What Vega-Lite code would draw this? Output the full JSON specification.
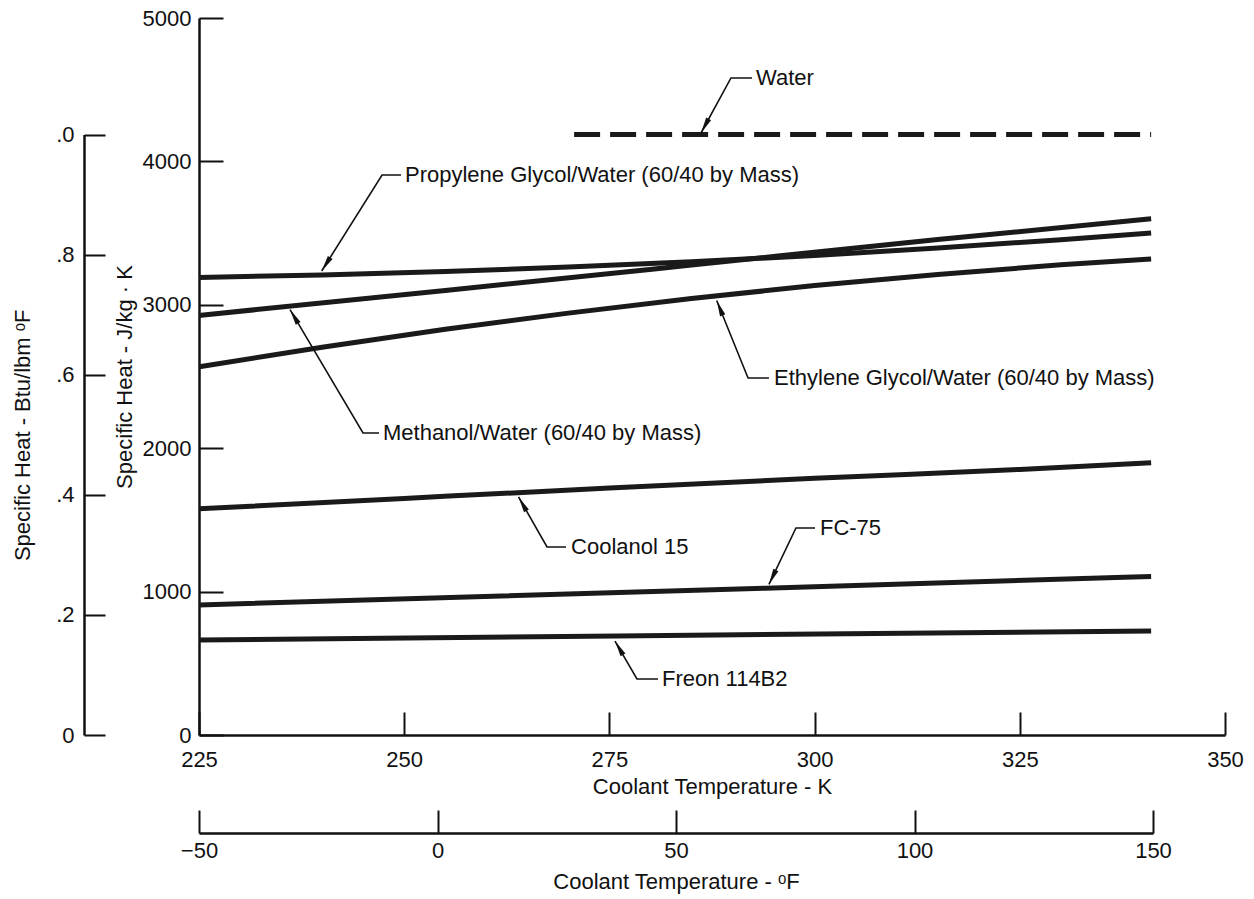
{
  "$schema": "https://vega.github.io/schema/vega-lite/v6.json",
  "width": 1026,
  "height": 717,
  "autosize": {"type": "none"},
  "padding": {"left": 199, "top": 18, "right": 29, "bottom": 164},
  "background": "white",
  "config": {
    "view": {"stroke": null},
    "font": "Liberation Sans",
    "axis": {
      "grid": false,
      "labelFont": "Liberation Sans",
      "labelFontSize": 22,
      "labelColor": "#111",
      "titleFont": "Liberation Sans",
      "titleFontSize": 22,
      "titleFontWeight": "normal",
      "titleColor": "#111",
      "domainColor": "#111",
      "domainWidth": 2.5,
      "tickColor": "#111",
      "tickWidth": 2,
      "labelFlush": false,
      "labelOverlap": false
    }
  },
  "datasets": {
    "curves": [
      {"fluid": "Propylene Glycol/Water", "k": 225, "j": 3191},
      {"fluid": "Propylene Glycol/Water", "k": 240, "j": 3208},
      {"fluid": "Propylene Glycol/Water", "k": 255, "j": 3232},
      {"fluid": "Propylene Glycol/Water", "k": 270, "j": 3263},
      {"fluid": "Propylene Glycol/Water", "k": 285, "j": 3300},
      {"fluid": "Propylene Glycol/Water", "k": 300, "j": 3344},
      {"fluid": "Propylene Glycol/Water", "k": 315, "j": 3396},
      {"fluid": "Propylene Glycol/Water", "k": 330, "j": 3454},
      {"fluid": "Propylene Glycol/Water", "k": 341, "j": 3500},
      {"fluid": "Methanol/Water", "k": 225, "j": 2926},
      {"fluid": "Methanol/Water", "k": 255, "j": 3100},
      {"fluid": "Methanol/Water", "k": 285, "j": 3277},
      {"fluid": "Methanol/Water", "k": 315, "j": 3455},
      {"fluid": "Methanol/Water", "k": 341, "j": 3600},
      {"fluid": "Ethylene Glycol/Water", "k": 225, "j": 2568},
      {"fluid": "Ethylene Glycol/Water", "k": 240, "j": 2704},
      {"fluid": "Ethylene Glycol/Water", "k": 255, "j": 2829},
      {"fluid": "Ethylene Glycol/Water", "k": 270, "j": 2942},
      {"fluid": "Ethylene Glycol/Water", "k": 285, "j": 3044},
      {"fluid": "Ethylene Glycol/Water", "k": 300, "j": 3134},
      {"fluid": "Ethylene Glycol/Water", "k": 315, "j": 3212},
      {"fluid": "Ethylene Glycol/Water", "k": 330, "j": 3279},
      {"fluid": "Ethylene Glycol/Water", "k": 341, "j": 3320},
      {"fluid": "Coolanol 15", "k": 225, "j": 1577},
      {"fluid": "Coolanol 15", "k": 250, "j": 1650},
      {"fluid": "Coolanol 15", "k": 275, "j": 1722},
      {"fluid": "Coolanol 15", "k": 300, "j": 1790},
      {"fluid": "Coolanol 15", "k": 325, "j": 1852},
      {"fluid": "Coolanol 15", "k": 341, "j": 1898},
      {"fluid": "FC-75", "k": 225, "j": 907},
      {"fluid": "FC-75", "k": 294, "j": 1024},
      {"fluid": "FC-75", "k": 341, "j": 1105},
      {"fluid": "Freon 114B2", "k": 225, "j": 663},
      {"fluid": "Freon 114B2", "k": 276, "j": 691},
      {"fluid": "Freon 114B2", "k": 341, "j": 725}
    ],
    "water": [
      {"fluid": "Water", "k": 270.7, "j": 4187},
      {"fluid": "Water", "k": 341, "j": 4187}
    ],
    "labels": [
      {"name": "Water", "k": 292.62, "j": 4582},
      {"name": "Propylene Glycol/Water (60/40 by Mass)", "k": 249.85, "j": 3905},
      {"name": "Methanol/Water (60/40 by Mass)", "k": 247.17, "j": 2106},
      {"name": "Ethylene Glycol/Water (60/40 by Mass)", "k": 294.81, "j": 2490},
      {"name": "Coolanol 15", "k": 270.08, "j": 1311},
      {"name": "FC-75", "k": 300.41, "j": 1444},
      {"name": "Freon 114B2", "k": 281.16, "j": 391}
    ],
    "leaders": [
      {"id": "Water", "seq": 1, "k": 292.37, "j": 4582},
      {"id": "Water", "seq": 2, "k": 289.81, "j": 4582},
      {"id": "Water", "seq": 3, "k": 286.16, "j": 4198},
      {"id": "Propylene", "seq": 1, "k": 249.61, "j": 3905},
      {"id": "Propylene", "seq": 2, "k": 247.3, "j": 3905},
      {"id": "Propylene", "seq": 3, "k": 239.95, "j": 3236},
      {"id": "Methanol", "seq": 1, "k": 246.93, "j": 2106},
      {"id": "Methanol", "seq": 2, "k": 244.98, "j": 2106},
      {"id": "Methanol", "seq": 3, "k": 236.09, "j": 2967},
      {"id": "Ethylene", "seq": 1, "k": 294.44, "j": 2490},
      {"id": "Ethylene", "seq": 2, "k": 291.89, "j": 2490},
      {"id": "Ethylene", "seq": 3, "k": 288.07, "j": 3030},
      {"id": "Coolanol", "seq": 1, "k": 269.71, "j": 1311},
      {"id": "Coolanol", "seq": 2, "k": 267.4, "j": 1311},
      {"id": "Coolanol", "seq": 3, "k": 263.93, "j": 1660},
      {"id": "FC-75", "seq": 1, "k": 300.05, "j": 1444},
      {"id": "FC-75", "seq": 2, "k": 297.73, "j": 1444},
      {"id": "FC-75", "seq": 3, "k": 294.44, "j": 1050},
      {"id": "Freon", "seq": 1, "k": 280.92, "j": 391},
      {"id": "Freon", "seq": 2, "k": 278.36, "j": 391},
      {"id": "Freon", "seq": 3, "k": 275.68, "j": 655}
    ],
    "arrows": [
      {"id": "Water", "k": 286.16, "j": 4198, "k0": 289.81, "j0": 4582},
      {"id": "Propylene", "k": 239.95, "j": 3236, "k0": 247.3, "j0": 3905},
      {"id": "Methanol", "k": 236.09, "j": 2967, "k0": 244.98, "j0": 2106},
      {"id": "Ethylene", "k": 288.07, "j": 3030, "k0": 291.89, "j0": 2490},
      {"id": "Coolanol", "k": 263.93, "j": 1660, "k0": 267.4, "j0": 1311},
      {"id": "FC-75", "k": 294.44, "j": 1050, "k0": 297.73, "j0": 1444},
      {"id": "Freon", "k": 275.68, "j": 655, "k0": 278.36, "j0": 391}
    ]
  },
  "layer": [
    {
      "encoding": {
        "x": {
          "field": "k",
          "type": "quantitative",
          "scale": {"domain": [225, 350], "nice": false, "zero": false},
          "axis": {
            "title": "Coolant Temperature - K",
            "values": [225, 250, 275, 300, 325, 350],
            "format": "d",
            "tickSize": -23,
            "labelPadding": 37,
            "titlePadding": 6,
            "labelAngle": 0
          }
        },
        "y": {
          "field": "j",
          "type": "quantitative",
          "scale": {"domain": [0, 5000], "nice": false, "zero": false},
          "axis": {
            "title": "Specific Heat - J/kg · K",
            "values": [0, 1000, 2000, 3000, 4000, 5000],
            "format": "d",
            "tickSize": -24,
            "labelPadding": 32,
            "titlePadding": 6
          }
        }
      },
      "layer": [
        {
          "data": {"name": "curves"},
          "mark": {"type": "line", "stroke": "#1a1a1a", "strokeWidth": 5, "interpolate": "monotone"},
          "encoding": {"detail": {"field": "fluid"}}
        },
        {
          "data": {"name": "water"},
          "mark": {"type": "line", "stroke": "#1a1a1a", "strokeWidth": 5, "strokeDash": [26, 10]},
          "encoding": {"detail": {"field": "fluid"}}
        },
        {
          "data": {"name": "leaders"},
          "mark": {"type": "line", "stroke": "#111", "strokeWidth": 1.6},
          "encoding": {
            "detail": {"field": "id"},
            "order": {"field": "seq", "type": "quantitative"}
          }
        },
        {
          "data": {"name": "arrows"},
          "transform": [
            {"calculate": "atan2((datum.k - datum.k0) * 8.208, (datum.j - datum.j0) * 0.1434) * 180 / PI", "as": "angle"}
          ],
          "mark": {"type": "point", "shape": "M0,0L0.35,2L-0.35,2Z", "filled": true, "fill": "#111", "strokeWidth": 0, "size": 256, "opacity": 1},
          "encoding": {"angle": {"field": "angle", "type": "quantitative", "scale": null}}
        },
        {
          "data": {"name": "labels"},
          "mark": {"type": "text", "align": "left", "baseline": "middle", "fontSize": 22, "font": "Liberation Sans", "fill": "#111", "dx": 2},
          "encoding": {"text": {"field": "name"}}
        }
      ]
    },
    {
      "data": {"values": [{"btu": 0}, {"btu": 1}]},
      "mark": {"type": "point", "opacity": 0},
      "encoding": {
        "y": {
          "field": "btu",
          "type": "quantitative",
          "scale": {"domain": [0, 1], "range": [717, 116.6], "nice": false, "zero": false},
          "axis": {
            "orient": "left",
            "offset": 115,
            "values": [0, 0.2, 0.4, 0.6, 0.8, 1],
            "labelExpr": "datum.value === 0 ? '0' : '.' + slice(format(datum.value, '.1f'), -1)",
            "tickSize": -21,
            "labelPadding": 31,
            "title": "Specific Heat - Btu/lbm ᵒF",
            "titlePadding": 21
          }
        }
      }
    },
    {
      "data": {"values": [{"f": -50}, {"f": 150}]},
      "mark": {"type": "point", "opacity": 0},
      "encoding": {
        "x": {
          "field": "f",
          "type": "quantitative",
          "scale": {"domain": [-50, 150], "range": [0, 954], "nice": false, "zero": false},
          "axis": {
            "orient": "bottom",
            "offset": 98,
            "values": [-50, 0, 50, 100, 150],
            "format": "d",
            "tickSize": -23,
            "labelPadding": 30,
            "labelAngle": 0,
            "title": "Coolant Temperature - ᵒF",
            "titlePadding": 10
          }
        }
      }
    }
  ],
  "resolve": {"scale": {"x": "independent", "y": "independent"}}
}
